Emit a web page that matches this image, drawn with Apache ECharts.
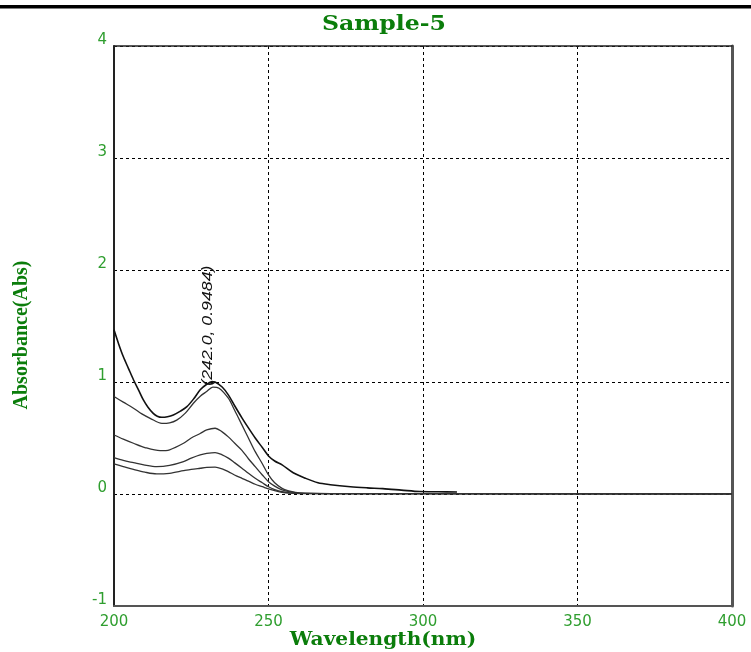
<!DOCTYPE html>
<html>
<head>
<meta charset="utf-8">
<script src="https://cdn.jsdelivr.net/npm/echarts@6/dist/echarts.min.js"></script>
<style>html,body{margin:0;padding:0;background:#fff;}#c{width:751px;height:652px;}</style>
</head>
<body>
<div id="c"></div>
<script>
var titleText = 'Sample-5';
var xName = 'Wavelength(nm)';
var yName = 'Absorbance(Abs)';
var peakLabel = '(242.0, 0.9484)';
var peakPoint = [231.8, 1.003];

var xTicks = [200, 250, 300, 350, 400];
var yTicks = [-1, 0, 1, 2, 3, 4];

var wl1 = [200,201.5,203,204.7,206.3,208,209.5,211,212.7,214,215.5,217.3,219.2,221.5,223.6,225.8,227.9,230,231.7,232.7,235,237,239,241.4,243.5,245.7,248,250,252,254.4,258,262,266,270,276.5,282,287,293,299,305,311];
var abs1 = [1.466,1.34,1.227,1.12,1.02,0.925,0.84,0.775,0.72,0.695,0.685,0.69,0.706,0.74,0.78,0.85,0.93,0.98,1.003,1.0,0.955,0.885,0.79,0.68,0.59,0.50,0.415,0.34,0.295,0.26,0.19,0.14,0.10,0.083,0.065,0.055,0.048,0.035,0.022,0.02,0.018];

var wl2 = [200,203,206.3,209,211.7,215.5,218,220.3,223,225.7,228,230,232,234,237,239,241.4,243.5,245.7,248,250,252,254.4,256.5,258.7,262,270,300,350,400];
var abs2 = [0.87,0.82,0.766,0.715,0.676,0.63,0.635,0.66,0.72,0.81,0.875,0.915,0.955,0.945,0.855,0.75,0.617,0.50,0.378,0.27,0.17,0.10,0.05,0.028,0.015,0.008,0.004,0.003,0.002,0.002];

var wl3 = [200,203,206.3,210,214.9,218,222.5,225,227.9,230,232.7,235,237,239,241.4,243.5,245.7,248,250,252,254.4,257,260,270,300,400];
var abs3 = [0.527,0.49,0.453,0.415,0.387,0.395,0.453,0.50,0.54,0.572,0.587,0.555,0.51,0.455,0.39,0.315,0.244,0.17,0.11,0.07,0.036,0.018,0.008,0.004,0.003,0.002];

var wl4 = [200,203,206.3,210,213.8,218,222.5,225,227.9,230,232.7,235,237,239,241.4,243.5,245.7,248,250,252,254.4,257,260,300,400];
var abs4 = [0.325,0.30,0.28,0.258,0.244,0.255,0.289,0.32,0.349,0.362,0.37,0.35,0.32,0.28,0.23,0.185,0.14,0.10,0.065,0.04,0.02,0.01,0.005,0.003,0.002];

var wl5 = [200,203,206.3,210,213.8,218,222.5,225,227.9,230,232.7,235,237,239,241.4,243.5,245.7,248,250,252,254.4,257,260,300,400];
var abs5 = [0.268,0.245,0.22,0.195,0.179,0.185,0.208,0.22,0.23,0.237,0.24,0.225,0.2,0.17,0.14,0.115,0.087,0.065,0.045,0.03,0.015,0.008,0.004,0.003,0.002];

function zip(a, b) { return a.map(function (v, i) { return [v, b[i]]; }); }

var seriesDefs = [
  { data: zip(wl1, abs1), color: '#111', width: 1.6 },
  { data: zip(wl2, abs2), color: '#333', width: 1.3 },
  { data: zip(wl3, abs3), color: '#333', width: 1.3 },
  { data: zip(wl4, abs4), color: '#333', width: 1.3 },
  { data: zip(wl5, abs5), color: '#333', width: 1.3 }
];

var labelGreen = '#2f9e2f';
var nameGreen = '#0b7d0b';
var dash = { color: '#000', type: [3, 3], width: 1 };

var chart = echarts.init(document.getElementById('c'), null, { renderer: 'canvas' });
var option = {
  animation: false,
  backgroundColor: '#fff',
  grid: { left: 114, right: 19, top: 46, bottom: 46, containLabel: false, outerBoundsMode: 'none' },
  xAxis: [{
    type: 'value', min: xTicks[0], max: xTicks[xTicks.length - 1], interval: 50,
    position: 'bottom',
    axisLine: { show: true, onZero: false, lineStyle: { color: '#555', width: 2 } },
    axisTick: { show: false },
    axisLabel: { color: labelGreen, fontFamily: 'DejaVu Sans', fontSize: 15, margin: 9 },
    splitLine: { show: true, lineStyle: dash }
  }, {
    type: 'value', min: xTicks[0], max: xTicks[xTicks.length - 1], interval: 50,
    position: 'top',
    axisLine: { show: true, onZero: false, lineStyle: { color: '#222', width: 1.5 } },
    axisTick: { show: false }, axisLabel: { show: false }, splitLine: { show: false }
  }],
  yAxis: [{
    type: 'value', min: yTicks[0], max: yTicks[yTicks.length - 1], interval: 1,
    position: 'left',
    axisLine: { show: true, onZero: false, lineStyle: { color: '#222', width: 2 } },
    axisTick: { show: false },
    axisLabel: { color: labelGreen, fontFamily: 'DejaVu Sans', fontSize: 15, margin: 7,
                 verticalAlign: 'bottom', lineHeight: 12 },
    splitLine: { show: true, lineStyle: dash }
  }, {
    type: 'value', min: yTicks[0], max: yTicks[yTicks.length - 1], interval: 1,
    position: 'right',
    axisLine: { show: true, onZero: false, lineStyle: { color: '#555', width: 3 } },
    axisTick: { show: false }, axisLabel: { show: false }, splitLine: { show: false }
  }],
  series: seriesDefs.map(function (s) {
    return {
      type: 'line', data: s.data, xAxisIndex: 0, yAxisIndex: 0,
      showSymbol: false, smooth: 0.3,
      lineStyle: { color: s.color, width: s.width }
    };
  })
};
chart.setOption(option);

var pk = chart.convertToPixel({ xAxisIndex: 0, yAxisIndex: 0 }, peakPoint);
chart.setOption({
  graphic: [
    { type: 'rect', shape: { x: 0, y: 5, width: 751, height: 3.5 }, style: { fill: '#000' } },
    { type: 'text', x: 384, y: 25, scaleX: 1.18,
      style: { text: titleText, textAlign: 'center', textVerticalAlign: 'middle',
      fill: nameGreen, font: 'bold 20px "DejaVu Serif"' } },
    { type: 'text', x: 383, y: 640, scaleX: 1.06,
      style: { text: xName, textAlign: 'center', textVerticalAlign: 'middle',
      fill: nameGreen, font: 'bold 19px "DejaVu Serif"' } },
    { type: 'text', x: 22, y: 335, rotation: Math.PI / 2,
      style: { text: yName, textAlign: 'center', textVerticalAlign: 'middle',
      fill: nameGreen, font: 'bold 20px "Liberation Serif"' } },
    { type: 'text', x: pk[0] + 3, y: pk[1] + 4, rotation: Math.PI / 2, scaleX: 1.18,
      style: { text: peakLabel, textAlign: 'left', textVerticalAlign: 'bottom',
      fill: '#111', font: 'italic 15px "Liberation Sans"' } }
  ]
}, { replaceMerge: ['graphic'] });
</script>
</body>
</html>
